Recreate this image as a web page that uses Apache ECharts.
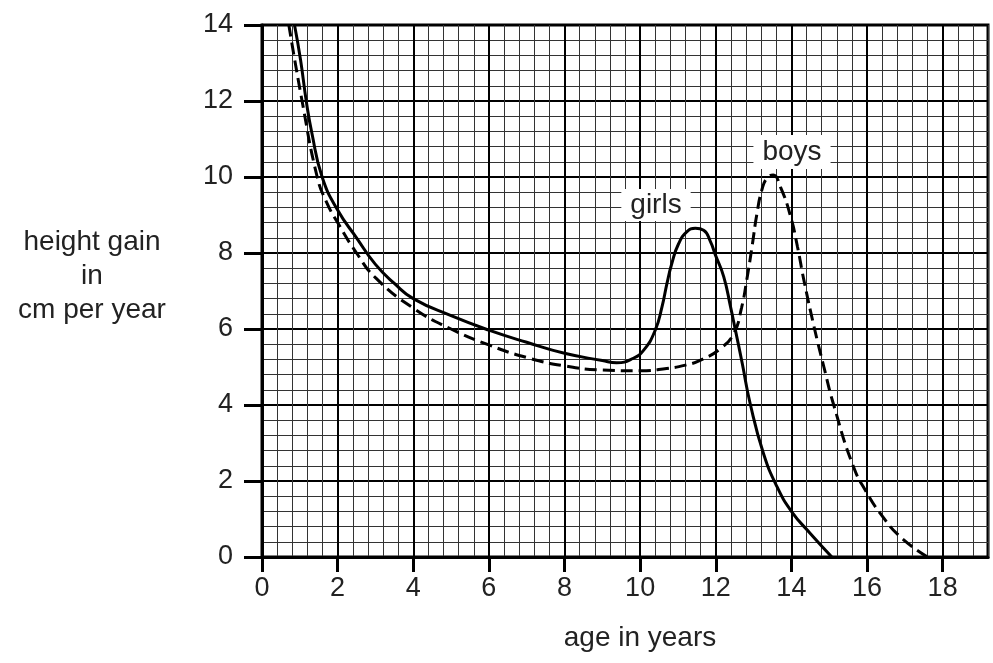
<!DOCTYPE html>
<html>
<head>
<meta charset="utf-8">
<script src="https://cdn.jsdelivr.net/npm/echarts@6/dist/echarts.min.js"></script>
<style>
html,body{margin:0;padding:0;background:#fff;}
#chart{width:993px;height:663px;}
</style>
</head>
<body>
<div id="chart"></div>
<script>
// ---- data ----
const xTickLabels = [0, 2, 4, 6, 8, 10, 12, 14, 16, 18];
const yTickLabels = [0, 2, 4, 6, 8, 10, 12, 14];
const girlsAge = [0.86, 1.02, 1.17, 1.32, 1.59, 2.0, 2.5, 3.0, 3.5, 4.0, 5.0, 6.0, 7.0, 8.0, 9.0, 9.38, 9.82, 10.1, 10.4, 10.58, 10.71, 10.84, 11.02, 11.24, 11.46, 11.68, 11.86, 11.99, 12.21, 12.39, 12.52, 12.7, 12.91, 13.26, 13.62, 14.01, 14.5, 15.07];
const girlsGain = [14, 13.08, 12, 11.15, 10, 9.13, 8.4, 7.7, 7.2, 6.8, 6.35, 5.97, 5.65, 5.36, 5.17, 5.11, 5.23, 5.45, 5.97, 6.59, 7.2, 7.73, 8.25, 8.56, 8.65, 8.6, 8.3, 7.95, 7.38, 6.59, 5.97, 5.1, 4.04, 2.73, 1.85, 1.19, 0.62, 0];
const boysAge = [0.71, 1.06, 1.46, 1.7, 2.0, 2.5, 3.0, 4.0, 5.0, 6.0, 7.0, 8.0, 9.0, 10.0, 10.7, 11.2, 11.6, 12.13, 12.48, 12.68, 12.82, 12.96, 13.09, 13.22, 13.36, 13.52, 13.71, 13.98, 14.16, 14.33, 14.6, 14.86, 15.12, 15.64, 16.0, 16.35, 16.88, 17.6];
const boysGain = [14, 12, 10, 9.35, 8.8, 8.0, 7.35, 6.55, 6.0, 5.58, 5.25, 5.03, 4.92, 4.9, 4.96, 5.05, 5.18, 5.49, 5.89, 6.55, 7.29, 8.17, 9.04, 9.66, 9.98, 10.05, 9.74, 8.96, 8.17, 7.29, 6.06, 5.0, 4.0, 2.38, 1.68, 1.15, 0.53, 0];
const seriesNames = ['girls', 'boys'];
const xTitle = 'age in years';
const yTitle = ['height gain', 'in', 'cm per year'];

// ---- chart ----
const FONT = 'Liberation Sans, Arial, sans-serif';
const pair = (xs, ys) => xs.map((x, i) => [x, ys[i]]);
const chart = echarts.init(document.getElementById('chart'), null, {renderer: 'canvas'});
const hidden = {show: false};
chart.setOption({
  animation: false,
  backgroundColor: '#fff',
  grid: {left: 262, right: 5, top: 25, bottom: 106, containLabel: false, outerBoundsMode: 'none',
         show: true, borderColor: '#000', borderWidth: 3, backgroundColor: '#fff'},
  xAxis: [
    {type: 'value', position: 'bottom', min: 0, max: 19.2, interval: 0.4, axisLine: hidden, axisTick: hidden, axisLabel: hidden,
     splitLine: {show: true, lineStyle: {color: '#333', width: 1}}},
    {type: 'value', position: 'bottom', min: 0, max: 19.2, interval: 2,
     axisLine: {show: true, onZero: false, lineStyle: {color: '#000', width: 3}},
     axisTick: {show: true, length: 15, lineStyle: {color: '#000', width: 3}, customValues: xTickLabels},
     axisLabel: {show: true, margin: 18, fontSize: 27, fontFamily: FONT, color: '#222', customValues: xTickLabels,
                 formatter: v => (xTickLabels.indexOf(v) >= 0 ? String(v) : '')},
     splitLine: {show: true, lineStyle: {color: '#000', width: 2}}}
  ],
  yAxis: [
    {type: 'value', position: 'left', min: 0, max: 14, interval: 0.4, axisLine: hidden, axisTick: hidden, axisLabel: hidden,
     splitLine: {show: true, lineStyle: {color: '#333', width: 1}}},
    {type: 'value', position: 'left', min: 0, max: 14, interval: 2,
     axisLine: {show: true, onZero: false, lineStyle: {color: '#000', width: 3}},
     axisTick: {show: true, length: 18, lineStyle: {color: '#000', width: 3}, customValues: yTickLabels},
     axisLabel: {show: true, margin: 29, fontSize: 27, fontFamily: FONT, color: '#222', customValues: yTickLabels},
     splitLine: {show: true, lineStyle: {color: '#000', width: 2}}}
  ],
  series: [
    {name: seriesNames[0], type: 'line', xAxisIndex: 1, yAxisIndex: 1, data: pair(girlsAge, girlsGain),
     smooth: 0.5, showSymbol: false, lineStyle: {color: '#000', width: 3, type: 'solid'}, z: 5},
    {name: seriesNames[1], type: 'line', xAxisIndex: 1, yAxisIndex: 1, data: pair(boysAge, boysGain),
     smooth: 0.5, showSymbol: false, lineStyle: {color: '#000', width: 3, type: [12, 6]}, z: 5}
  ],
  graphic: [
    {type: 'text', x: 656, y: 205, z: 100,
     style: {text: seriesNames[0], font: '28px ' + FONT, fill: '#222', align: 'center', verticalAlign: 'middle',
             backgroundColor: '#fff', padding: [2, 9]}},
    {type: 'text', x: 792, y: 152, z: 100,
     style: {text: seriesNames[1], font: '28px ' + FONT, fill: '#222', align: 'center', verticalAlign: 'middle',
             backgroundColor: '#fff', padding: [3, 9]}},
    {type: 'text', x: 640, y: 638,
     style: {text: xTitle, font: '28px ' + FONT, fill: '#222', align: 'center', verticalAlign: 'middle'}},
    {type: 'text', x: 92, y: 276,
     style: {text: yTitle.join('\n'), font: '28px ' + FONT, fill: '#222', align: 'center', verticalAlign: 'middle', lineHeight: 34}}
  ]
});
</script>
</body>
</html>
